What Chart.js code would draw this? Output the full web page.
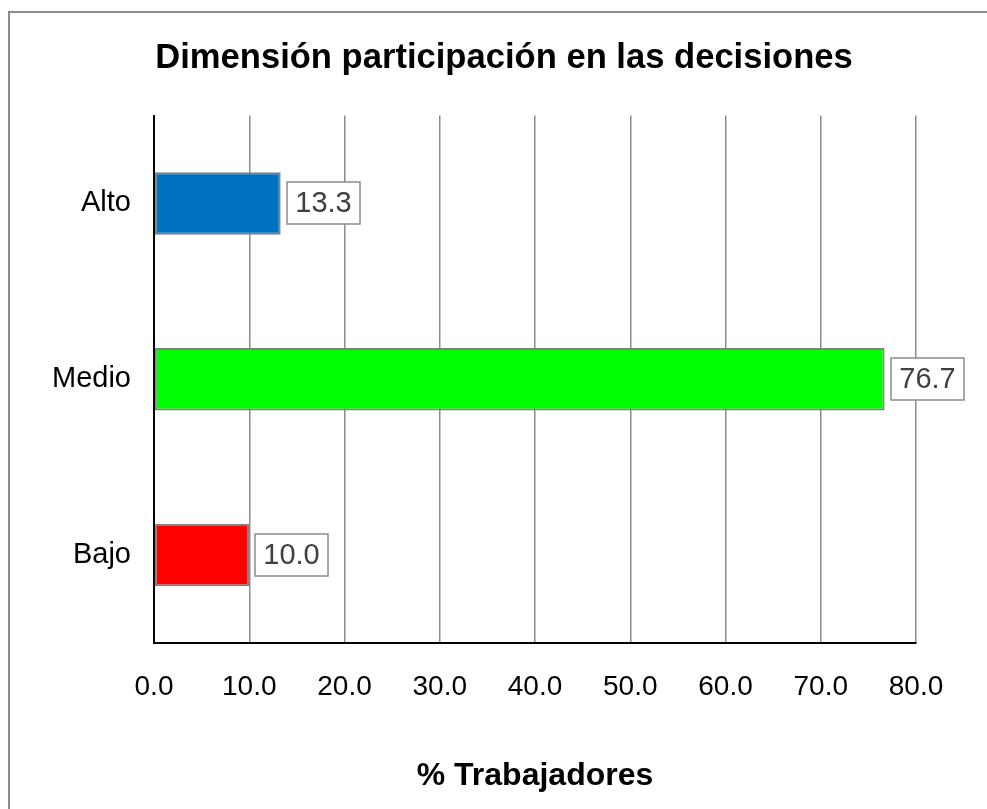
<!DOCTYPE html>
<html>
<head>
<meta charset="utf-8">
<script src="https://cdn.jsdelivr.net/npm/chart.js@4.4.1/dist/chart.umd.min.js"></script>
<style>
  html, body { margin: 0; padding: 0; background: #ffffff; overflow: hidden; }
  #wrap { position: relative; width: 987px; height: 809px; }
  #frame { position: absolute; left: 8px; top: 11px; width: 1200px; height: 1200px;
           border: 2px solid #8c8c8c; box-sizing: border-box; pointer-events: none; }
  canvas { position: absolute; left: 0; top: 0; }
</style>
</head>
<body>
<div id="wrap">
  <canvas id="c" width="987" height="809"></canvas>
  <div id="frame"></div>
</div>
<script>
const chartTitle = 'Dimensión participación en las decisiones';
const axisTitle = '% Trabajadores';
const categories = ['Alto', 'Medio', 'Bajo'];
const values = [13.3, 76.7, 10.0];
const barColors = ['#0070C0', '#00FF00', '#FF0000'];
const xTickLabels = ['0.0', '10.0', '20.0', '30.0', '40.0', '50.0', '60.0', '70.0', '80.0'];

const FONT = '"Liberation Sans", Arial, sans-serif';

// shift the title block so it is centred within the framed area
const titleShift = {
  id: 'titleShift',
  afterLayout(chart) {
    const t = chart.titleBlock;
    if (t) { t.left += 92; t.width = t.right - t.left; }
  }
};

const labelBoxes = {
  id: 'labelBoxes',
  afterDatasetsDraw(chart) {
    const ctx = chart.ctx;
    const meta = chart.getDatasetMeta(0);
    ctx.save();
    ctx.font = '29px ' + FONT;
    ctx.textAlign = 'center';
    ctx.textBaseline = 'middle';
    meta.data.forEach((bar, i) => {
      const txt = values[i].toFixed(1);
      const tw = ctx.measureText(txt).width;
      const w = Math.round(tw + 17);
      const h = 42;
      const x0 = Math.round(bar.x + 6);
      const y0 = Math.round(bar.y - h / 2);
      ctx.fillStyle = '#ffffff';
      ctx.fillRect(x0, y0, w, h);
      ctx.strokeStyle = '#8c8c8c';
      ctx.lineWidth = 1.5;
      ctx.strokeRect(x0, y0, w, h);
      ctx.fillStyle = '#404040';
      ctx.fillText(txt, x0 + w / 2, y0 + h / 2 + 1);
    });
    ctx.restore();
  }
};

new Chart(document.getElementById('c'), {
  type: 'bar',
  data: {
    labels: categories,
    datasets: [{
      data: values,
      backgroundColor: barColors,
      borderColor: '#808080',
      borderWidth: 2,
      borderSkipped: false,
      barPercentage: 1.0,
      categoryPercentage: 0.355
    }]
  },
  options: {
    indexAxis: 'y',
    responsive: false,
    animation: false,
    devicePixelRatio: 1,
    layout: { padding: { left: 0, right: 71, top: 0, bottom: 0 } },
    plugins: {
      legend: { display: false },
      tooltip: { enabled: false },
      title: {
        display: true,
        text: chartTitle,
        color: '#000000',
        font: { family: FONT, size: 34.6, weight: 'bold' },
        padding: { top: 38, bottom: 36 }
      }
    },
    scales: {
      x: {
        min: 0, max: 80,
        ticks: {
          stepSize: 10,
          color: '#000000',
          font: { family: FONT, size: 28 },
          padding: 27,
          maxRotation: 0,
          callback: (v, i) => xTickLabels[i]
        },
        grid: { color: '#8c8c8c', lineWidth: 1.5, drawTicks: false },
        border: { color: '#000000', width: 2 },
        title: {
          display: true,
          text: axisTitle,
          color: '#000000',
          font: { family: FONT, size: 32, weight: 'bold' },
          padding: { top: 0, bottom: 14 }
        },
        afterFit: (s) => { s.height = 166; }
      },
      y: {
        ticks: {
          color: '#000000',
          font: { family: FONT, size: 29 },
          padding: 23
        },
        grid: { display: false, drawTicks: false },
        border: { color: '#000000', width: 2 },
        afterFit: (s) => { s.width = 154; }
      }
    }
  },
  plugins: [titleShift, labelBoxes]
});
</script>
</body>
</html>
